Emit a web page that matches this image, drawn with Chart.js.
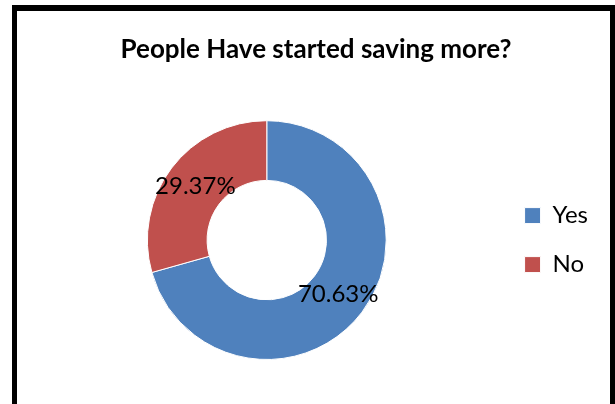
<!DOCTYPE html>
<html>
<head>
<meta charset="utf-8">
<script src="https://cdn.jsdelivr.net/npm/chart.js@4"></script>
<style>
  body { margin: 0; background: #fff; }
</style>
</head>
<body>
<canvas id="savingChart" width="615" height="404"></canvas>
<script>
const categories = ["Yes", "No"];
const shares = [70.63, 29.37];
const sliceColors = ["#4F81BD", "#C0504D"];

// black frame around the chart, like the exported office chart
const framePlugin = {
  id: "frame",
  beforeDraw(chart) {
    const ctx = chart.ctx;
    ctx.save();
    ctx.fillStyle = "#fff";
    ctx.fillRect(0, 0, chart.width, chart.height);
    ctx.fillStyle = "#000";
    ctx.fillRect(12, 5, 5, chart.height);
    ctx.fillRect(12, 5, chart.width - 12, 6);
    ctx.fillRect(610, 5, 5, chart.height);
    ctx.restore();
  }
};

// percentage labels in the middle of each slice
const sliceLabels = {
  id: "sliceLabels",
  afterDatasetsDraw(chart) {
    const ctx = chart.ctx;
    const meta = chart.getDatasetMeta(0);
    ctx.save();
    ctx.font = "24px Lato";
    ctx.fillStyle = "#000";
    ctx.textAlign = "center";
    ctx.textBaseline = "middle";
    meta.data.forEach((arc, i) => {
      const p = arc.tooltipPosition();
      ctx.fillText(shares[i].toFixed(2) + "%", p.x, p.y);
    });
    ctx.restore();
  }
};

new Chart(document.getElementById("savingChart"), {
  type: "doughnut",
  data: {
    labels: categories,
    datasets: [{
      data: shares,
      backgroundColor: sliceColors,
      borderColor: "#fff",
      borderWidth: 1
    }]
  },
  options: {
    responsive: false,
    animation: false,
    cutout: "50%",
    layout: { padding: { top: 0, bottom: 44, left: 34, right: 17 } },
    plugins: {
      title: {
        display: true,
        text: "People Have started saving more?",
        color: "#000",
        font: { family: "Lato", size: 26, weight: "bold" },
        padding: { top: 34, bottom: 55 }
      },
      legend: {
        position: "right",
        fullSize: false,
        labels: {
          boxWidth: 16,
          boxHeight: 16,
          padding: 25,
          color: "#000",
          font: { family: "Lato", size: 24 }
        }
      },
      tooltip: { enabled: false }
    }
  },
  plugins: [framePlugin, sliceLabels]
});
</script>
</body>
</html>
